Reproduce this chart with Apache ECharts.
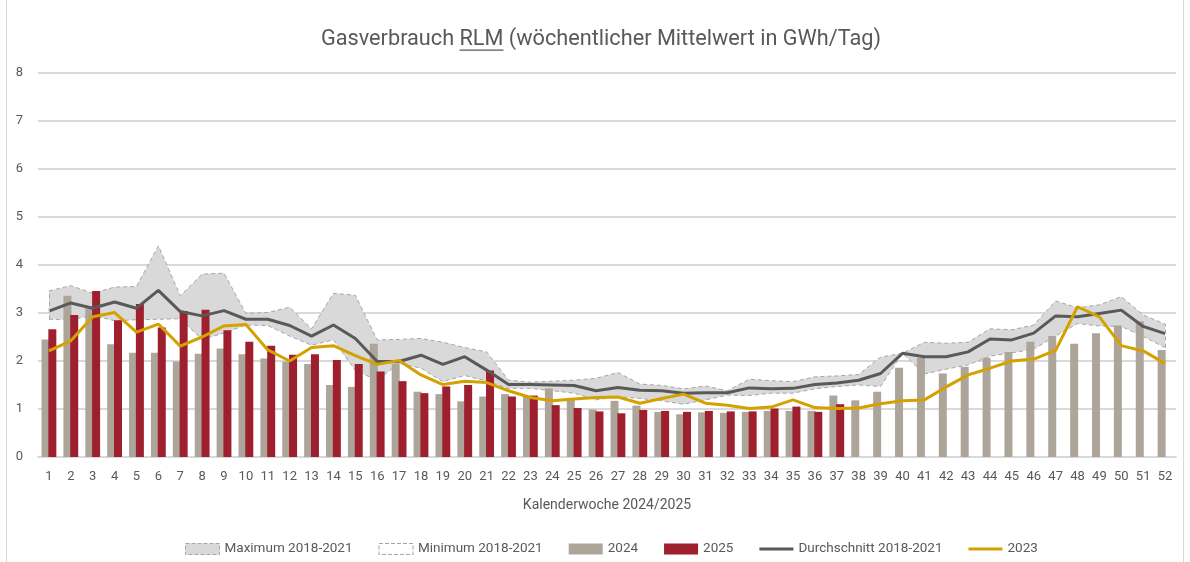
<!DOCTYPE html>
<html>
<head>
<meta charset="utf-8">
<script src="https://cdn.jsdelivr.net/npm/echarts@6/dist/echarts.min.js"></script>
<style>
  html, body { margin: 0; padding: 0; background: #fff; }
  #gasChart { width: 1190px; height: 562px; }
</style>
</head>
<body>
<div id="gasChart"></div>
<script>
var weeks = ['1','2','3','4','5','6','7','8','9','10','11','12','13','14','15','16','17','18','19','20',
	'21','22','23','24','25','26','27','28','29','30','31','32','33','34','35','36','37','38','39','40',
	'41','42','43','44','45','46','47','48','49','50','51','52'];
var yTicks = [0, 1, 2, 3, 4, 5, 6, 7, 8];

var maxVals = [3.46, 3.57, 3.41, 3.54, 3.55, 4.40, 3.36, 3.81, 3.83, 2.99, 3.01, 3.12, 2.67, 3.41, 3.37, 2.44, 2.45, 2.47, 2.39, 2.28,
	2.19, 1.60, 1.56, 1.58, 1.60, 1.64, 1.76, 1.52, 1.49, 1.42, 1.48, 1.38, 1.62, 1.59, 1.57, 1.67, 1.69, 1.72, 2.08, 2.16,
	2.39, 2.37, 2.39, 2.67, 2.65, 2.75, 3.25, 3.11, 3.17, 3.34, 2.96, 2.77];
var minVals = [2.87, 2.86, 2.95, 2.84, 2.86, 2.87, 2.88, 2.45, 2.58, 2.75, 2.74, 2.52, 2.33, 2.44, 1.80, 1.60, 1.95, 1.85, 1.57, 1.70,
	1.58, 1.43, 1.43, 1.38, 1.33, 1.19, 1.26, 1.22, 1.17, 1.10, 1.19, 1.29, 1.28, 1.33, 1.33, 1.42, 1.47, 1.50, 1.47, 2.16,
	1.73, 1.83, 1.92, 2.10, 2.17, 2.25, 2.52, 2.78, 2.73, 2.72, 2.51, 2.28];
var vals2024 = [2.45, 3.36, 3.14, 2.35, 2.17, 2.17, 1.99, 2.15, 2.26, 2.14, 2.05, 1.99, 1.94, 1.50, 1.46, 2.36, 1.95, 1.36, 1.31, 1.16,
	1.26, 1.31, 1.27, 1.43, 1.19, 0.99, 1.17, 1.07, 0.94, 0.89, 0.93, 0.92, 0.94, 0.96, 0.96, 0.96, 1.28, 1.18, 1.36, 1.86,
	2.06, 1.74, 1.88, 2.07, 2.19, 2.40, 2.52, 2.36, 2.58, 2.74, 2.83, 2.23];
var vals2025 = [2.66, 2.96, 3.46, 2.85, 3.19, 2.70, 3.04, 3.07, 2.64, 2.40, 2.32, 2.13, 2.14, 2.02, 1.94, 1.78, 1.58, 1.33, 1.47, 1.50,
	1.80, 1.26, 1.28, 1.08, 1.02, 0.95, 0.91, 0.98, 0.96, 0.94, 0.96, 0.95, 0.95, 1.01, 1.05, 0.94, 1.10];
var avgVals = [3.04, 3.21, 3.10, 3.23, 3.10, 3.47, 3.03, 2.94, 3.05, 2.87, 2.87, 2.74, 2.52, 2.75, 2.47, 1.99, 1.99, 2.12, 1.93, 2.09,
	1.81, 1.51, 1.51, 1.50, 1.49, 1.38, 1.45, 1.39, 1.38, 1.33, 1.34, 1.34, 1.44, 1.42, 1.43, 1.51, 1.54, 1.60, 1.74, 2.16,
	2.09, 2.09, 2.19, 2.46, 2.44, 2.58, 2.94, 2.92, 2.99, 3.06, 2.72, 2.57];
var vals2023 = [2.21, 2.42, 2.92, 3.01, 2.60, 2.77, 2.31, 2.50, 2.73, 2.76, 2.23, 2.00, 2.28, 2.32, 2.11, 1.93, 2.01, 1.71, 1.51, 1.58,
	1.55, 1.38, 1.24, 1.17, 1.21, 1.24, 1.25, 1.12, 1.22, 1.31, 1.12, 1.08, 1.01, 1.04, 1.19, 1.03, 1.01, 1.02, 1.11, 1.17,
	1.19, 1.46, 1.71, 1.85, 2.00, 2.04, 2.22, 3.13, 2.92, 2.32, 2.21, 1.95];

var textGrey = '#595959';
var fontFam = 'Roboto';

// band height = max - min (stacked on top of min)
var bandVals = maxVals.map(function (v, i) { return +(v - minVals[i]).toFixed(2); });

// title with underlined "RLM"
var titlePre = 'Gasverbrauch ';
var titleU = 'RLM';
var titlePost = ' (wöchentlicher Mittelwert in GWh/Tag)';
var titleSize = 21.7;
var titleTop = 29;
var ctx = document.createElement('canvas').getContext('2d');
ctx.font = titleSize + 'px ' + fontFam;
var wPre = ctx.measureText(titlePre).width;
var wU = ctx.measureText(titleU).width;
var wAll = ctx.measureText(titlePre + titleU + titlePost).width;
var titleX = 601 - wAll / 2;

// legend icons for lines (thin bar inside full-height box)
var lineIcon = 'path://M0,0L0.01,0L0,0.01Z M0,4L34,4L34,7L0,7Z M0,11L0.01,11L0,10.99Z';

var gasChart = echarts.init(document.getElementById('gasChart'));
var option = {
	backgroundColor: '#fff',
	animation: false,
	textStyle: { fontFamily: fontFam },
	title: {
		text: titlePre + titleU + titlePost,
		left: titleX,
		top: titleTop,
		padding: 0,
		textStyle: { color: textGrey, fontSize: titleSize, fontWeight: 'normal', fontFamily: fontFam }
	},
	graphic: [
		{ // underline under RLM
			type: 'rect',
			shape: { x: titleX + wPre, y: titleTop + 20.5, width: wU, height: 1.3 },
			style: { fill: textGrey }
		},
		{ // chart frame
			type: 'rect',
			shape: { x: 6.5, y: -2, width: 1177, height: 600 },
			style: { fill: 'none', stroke: '#D9D9D9', lineWidth: 1 },
			silent: true
		}
	],
	legend: {
		left: 180,
		top: 537,
		itemWidth: 34,
		itemHeight: 11,
		itemGap: 26,
		textStyle: { color: textGrey, fontSize: 13.5 },
		data: [
			{ name: 'Maximum 2018-2021', icon: 'rect', itemStyle: { color: '#D9D9D9', borderColor: '#A6A6A6', borderType: 'dashed', borderWidth: 1 } },
			{ name: 'Minimum 2018-2021', icon: 'rect', itemStyle: { color: '#fff', borderColor: '#A6A6A6', borderType: 'dashed', borderWidth: 1 } },
			{ name: '2024', icon: 'rect' },
			{ name: '2025', icon: 'rect' },
			{ name: 'Durchschnitt 2018-2021', icon: lineIcon },
			{ name: '2023', icon: lineIcon }
		]
	},
	grid: {
		left: 38,
		right: 14,
		top: 73,
		bottom: 105
	},
	xAxis: {
		type: 'category',
		data: weeks,
		name: 'Kalenderwoche 2024/2025',
		nameLocation: 'middle',
		nameGap: 41,
		nameTextStyle: { color: textGrey, fontSize: 14 },
		axisLine: { show: true, lineStyle: { color: '#D9D9D9', width: 2 } },
		axisTick: { show: false },
		axisLabel: { interval: 0, color: textGrey, fontSize: 13, margin: 13 }
	},
	yAxis: {
		type: 'value',
		min: yTicks[0],
		max: yTicks[yTicks.length - 1],
		interval: 1,
		axisLine: { show: false },
		axisTick: { show: false },
		axisLabel: { color: textGrey, fontSize: 13, margin: 15 },
		splitLine: { lineStyle: { color: '#D9D9D9', width: 2 } }
	},
	series: [
		{
			name: 'Minimum 2018-2021',
			type: 'line',
			stack: 'band',
			data: minVals,
			z: 1,
			symbol: 'none',
			lineStyle: { color: '#A6A6A6', width: 1, type: [4, 3] },
			itemStyle: { color: '#fff' },
			markLine: {
				silent: true,
				symbol: 'none',
				label: { show: false },
				lineStyle: { color: '#A6A6A6', width: 1, type: [4, 3] },
				data: [
					[{ coord: [weeks[0], minVals[0]] }, { coord: [weeks[0], maxVals[0]] }],
					[{ coord: [weeks[51], minVals[51]] }, { coord: [weeks[51], maxVals[51]] }]
				]
			}
		},
		{
			name: 'Maximum 2018-2021',
			type: 'line',
			stack: 'band',
			data: bandVals,
			z: 1,
			symbol: 'none',
			lineStyle: { color: '#A6A6A6', width: 1, type: [4, 3] },
			itemStyle: { color: '#D9D9D9' },
			areaStyle: { color: '#D9D9D9', opacity: 1 }
		},
		{
			name: '2024',
			type: 'bar',
			data: vals2024,
			barWidth: 8,
			barGap: '-15%',
			itemStyle: { color: '#AEA59A' }
		},
		{
			name: '2025',
			type: 'bar',
			data: vals2025,
			barWidth: 8,
			itemStyle: { color: '#9E1F2E' }
		},
		{
			name: 'Durchschnitt 2018-2021',
			type: 'line',
			data: avgVals,
			z: 3,
			symbol: 'none',
			lineStyle: { color: '#595959', width: 3 },
			itemStyle: { color: '#595959' }
		},
		{
			name: '2023',
			type: 'line',
			data: vals2023,
			z: 3,
			symbol: 'none',
			lineStyle: { color: '#D4A200', width: 3 },
			itemStyle: { color: '#D4A200' }
		}
	]
};
gasChart.setOption(option);
window.addEventListener('resize', function () {
	gasChart.resize();
});
</script>
</body>
</html>
